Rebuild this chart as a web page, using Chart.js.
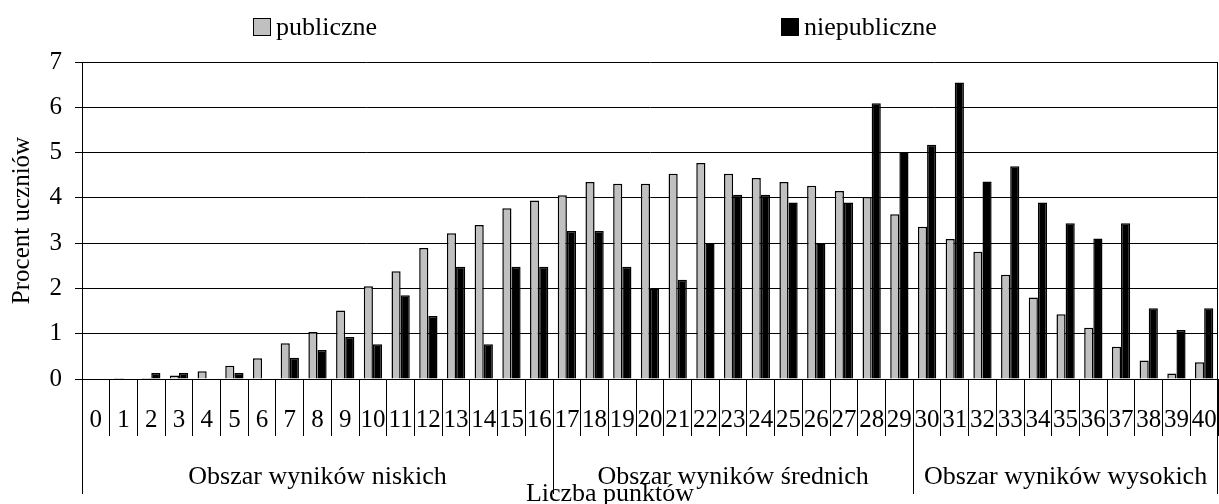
<!DOCTYPE html>
<html>
<head>
<meta charset="utf-8">
<script src="https://cdn.jsdelivr.net/npm/chart.js@4/dist/chart.umd.min.js"></script>
<style>
  html, body { margin: 0; padding: 0; background: #fff; }
  #wrap { width: 1219px; height: 504px; }
</style>
</head>
<body>
<div id="wrap"><canvas id="pointsChart" width="1219" height="504"></canvas></div>
<script>
// liczba punktow 0..40
const points = ['0','1','2','3','4','5','6','7','8','9','10','11','12','13','14','15','16','17','18','19','20',
  '21','22','23','24','25','26','27','28','29','30','31','32','33','34','35','36','37','38','39','40'];
const publiczne = [0, 0.02, 0.02, 0.08, 0.17, 0.29, 0.46, 0.79, 1.04, 1.51, 2.05, 2.38, 2.89, 3.22, 3.4, 3.77,
  3.94, 4.06, 4.35, 4.31, 4.31, 4.53, 4.77, 4.53, 4.44, 4.35, 4.27, 4.15, 4.02, 3.64, 3.36, 3.09,
  2.81, 2.3, 1.8, 1.43, 1.13, 0.71, 0.41, 0.12, 0.37];
const niepubliczne = [0, 0, 0.13, 0.13, 0, 0.13, 0, 0.47, 0.64, 0.93, 0.77, 1.85, 1.39, 2.48, 0.77, 2.48,
  2.48, 3.27, 3.27, 2.48, 2.0, 2.19, 2.99, 4.07, 4.07, 3.9, 2.99, 3.9, 6.09, 5.0, 5.17, 6.55,
  4.36, 4.7, 3.9, 3.44, 3.1, 3.44, 1.56, 1.08, 1.56];
const yTicks = [0, 1, 2, 3, 4, 5, 6, 7];
// obszary wynikow: [pierwszy punkt, ostatni punkt, opis]
const areas = [
  [0, 16, 'Obszar wyników niskich'],
  [17, 29, 'Obszar wyników średnich'],
  [30, 40, 'Obszar wyników wysokich']
];
const serif = 'Liberation Serif';

const areasPlugin = {
  id: 'areas',
  afterDraw: (chart) => {
    const { ctx, chartArea, scales } = chart;
    const x = scales.x;
    const half = (x.getPixelForValue(1) - x.getPixelForValue(0)) / 2;
    ctx.save();
    ctx.strokeStyle = '#000';
    ctx.lineWidth = 1;
    // right frame line
    ctx.beginPath();
    ctx.moveTo(chartArea.right - 0.5, chartArea.top);
    ctx.lineTo(chartArea.right - 0.5, chartArea.bottom);
    ctx.stroke();
    ctx.font = '26px "' + serif + '"';
    ctx.fillStyle = '#000';
    ctx.textAlign = 'center';
    ctx.textBaseline = 'alphabetic';
    const edges = [];
    areas.forEach((a, i) => {
      const l = i === 0 ? chartArea.left : x.getPixelForValue(a[0]) - half;
      const r = i === areas.length - 1 ? chartArea.right : x.getPixelForValue(a[1]) + half;
      edges.push(l, r);
      ctx.fillText(a[2], (l + r) / 2, 484);
    });
    [...new Set(edges.map(v => Math.round(v)))].forEach(v => {
      const px = v === Math.round(chartArea.right) ? v - 0.5 : v + 0.5;
      ctx.beginPath();
      ctx.moveTo(px, chartArea.bottom);
      ctx.lineTo(px, 494);
      ctx.stroke();
    });
    ctx.fillText('Liczba punktów', 610, 501);

    // legend
    const legendX = [253, 781];
    chart.data.datasets.forEach((ds, i) => {
      ctx.fillStyle = ds.backgroundColor;
      ctx.fillRect(legendX[i], 18, 18, 18);
      ctx.strokeRect(legendX[i] + 0.5, 18.5, 17, 17);
      ctx.fillStyle = '#000';
      ctx.textAlign = 'left';
      ctx.textBaseline = 'middle';
      ctx.fillText(ds.label, legendX[i] + 23, 28);
    });
    ctx.restore();
  }
};

const ctx = document.getElementById('pointsChart').getContext('2d');
new Chart(ctx, {
  type: 'bar',
  data: {
    labels: points,
    datasets: [
      {
        label: 'publiczne',
        data: publiczne,
        backgroundColor: '#c0c0c0',
        borderColor: '#000',
        borderWidth: 1.5,
        barPercentage: 1.0,
        categoryPercentage: 0.66
      },
      {
        label: 'niepubliczne',
        data: niepubliczne,
        backgroundColor: '#000',
        borderColor: '#000',
        borderWidth: 1.5,
        barPercentage: 1.0,
        categoryPercentage: 0.66
      }
    ]
  },
  options: {
    responsive: false,
    animation: false,
    devicePixelRatio: 1,
    layout: { padding: { top: 62, right: 1, bottom: 0, left: 0 } },
    plugins: {
      legend: { display: false },
      tooltip: { enabled: false }
    },
    scales: {
      x: {
        offset: true,
        afterFit: (s) => { s.height = 125; },
        grid: {
          offset: true,
          drawOnChartArea: false,
          drawTicks: true,
          tickLength: 57,
          color: '#000',
          lineWidth: 1
        },
        border: { color: '#000', width: 1 },
        ticks: {
          autoSkip: false,
          maxRotation: 0,
          minRotation: 0,
          padding: -31,
          color: '#000',
          font: { family: serif, size: 25 }
        }
      },
      y: {
        min: 0,
        max: 7,
        afterFit: (s) => { s.width = 82; },
        afterBuildTicks: (s) => { s.ticks = yTicks.map(v => ({ value: v })); },
        grid: {
          color: '#000',
          lineWidth: 1,
          drawTicks: true,
          tickLength: 7
        },
        border: { color: '#000', width: 1 },
        ticks: {
          padding: 13,
          color: '#000',
          font: { family: serif, size: 25 }
        },
        title: {
          display: true,
          text: 'Procent uczniów',
          color: '#000',
          padding: { top: 7, bottom: 0 },
          font: { family: serif, size: 25 }
        }
      }
    }
  },
  plugins: [areasPlugin]
});
</script>
</body>
</html>
